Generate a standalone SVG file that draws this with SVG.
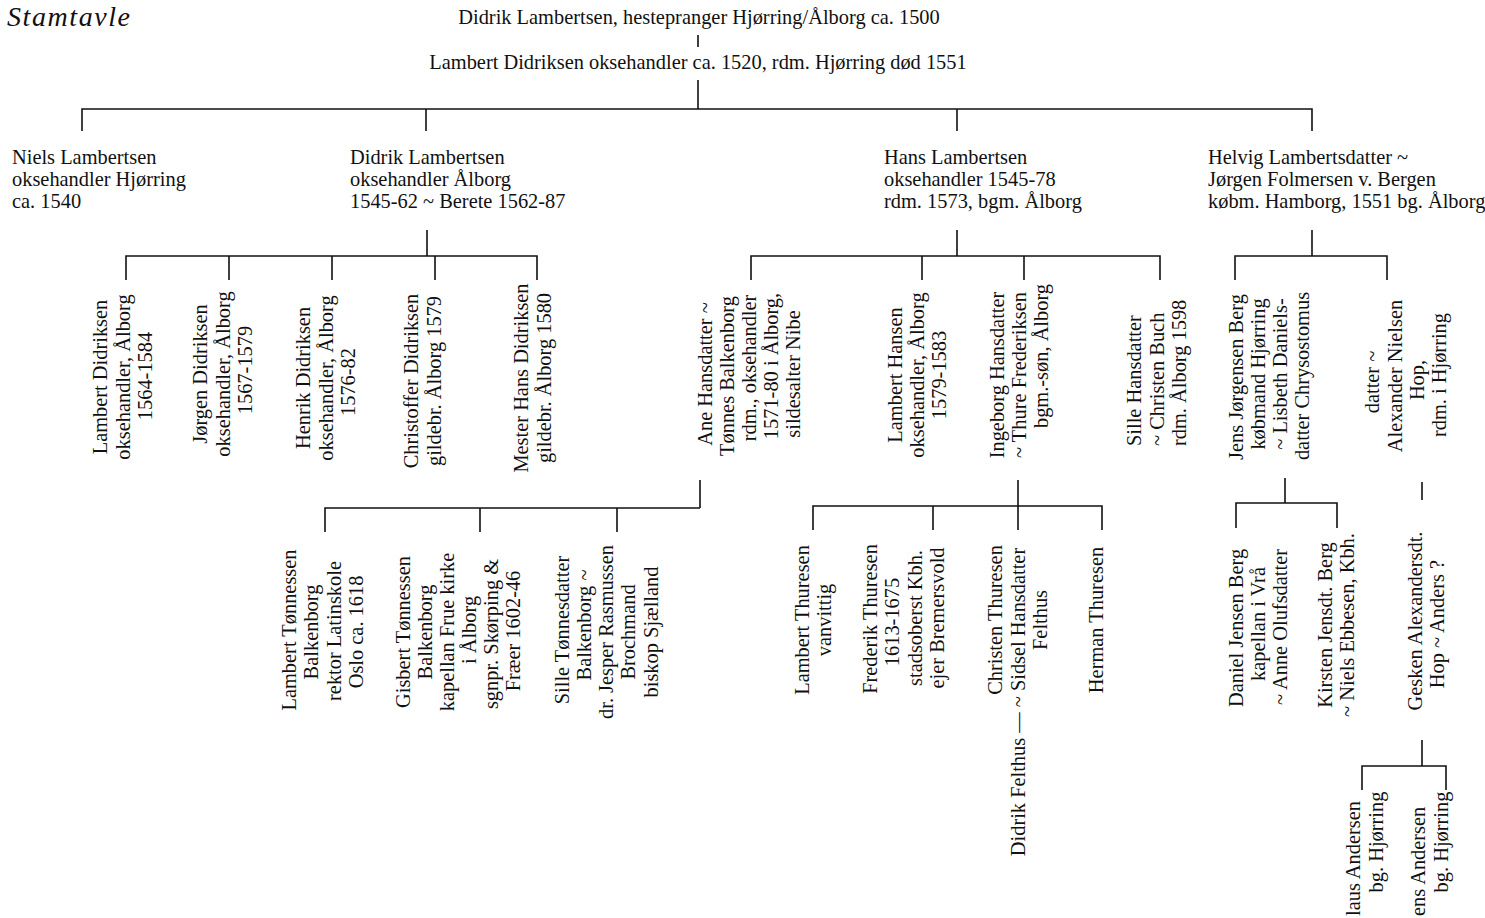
<svg xmlns="http://www.w3.org/2000/svg" width="1485" height="918" viewBox="0 0 1485 918">
<style>
.t{font-family:"Liberation Serif","Times New Roman",serif;font-size:20.4px;fill:#111}
.m{text-anchor:middle}
.s{text-anchor:start}
.c{stroke:#111;stroke-width:1.6;fill:none}
.ti{font-family:"Liberation Serif","Times New Roman",serif;font-style:italic;font-size:28px;fill:#111}
</style>
<rect width="1485" height="918" fill="#fff"/>
<text class="ti" x="7" y="26" textLength="123">Stamtavle</text>

<g id="connectors" class="c">
<path d="M698,35V47M698,80V109M82,131V109H1312V131M426,109V131M957,109V131"/>
<path d="M427,230V256M126,280V256H537V280M229,256V280M332,256V280M435,256V280"/>
<path d="M957,230V256M751,280V256H1160V280M922,256V280M1024,256V280"/>
<path d="M1312,230V256M1235,280V256H1387V280"/>
<path d="M700,480V508M325,532V508H700M480,508V532M617,508V532"/>
<path d="M1018,480V530M813,530V506H1102V530M933,506V530"/>
<path d="M1285,478V503M1236,528V503H1337V528"/>
<path d="M1422,482V500"/>
<path d="M1422,740V766M1362,790V766H1446V790"/>
</g>

<g id="n-didrik-sr"><text class="t m" x="699" y="24">Didrik Lambertsen, hestepranger Hjørring/Ålborg ca. 1500</text></g>
<g id="n-lambert"><text class="t m" x="698" y="69">Lambert Didriksen oksehandler ca. 1520, rdm. Hjørring død 1551</text></g>

<g id="n-niels"><text class="t" x="12" y="164">Niels Lambertsen<tspan x="12" y="186">oksehandler Hjørring</tspan><tspan x="12" y="208">ca. 1540</tspan></text></g>
<g id="n-didrik"><text class="t" x="350" y="164">Didrik Lambertsen<tspan x="350" y="186">oksehandler Ålborg</tspan><tspan x="350" y="208">1545-62 ~ Berete 1562-87</tspan></text></g>
<g id="n-hans"><text class="t" x="884" y="164">Hans Lambertsen<tspan x="884" y="186">oksehandler 1545-78</tspan><tspan x="884" y="208">rdm. 1573, bgm. Ålborg</tspan></text></g>
<g id="n-helvig"><text class="t" x="1208" y="164">Helvig Lambertsdatter ~<tspan x="1208" y="186">Jørgen Folmersen v. Bergen</tspan><tspan x="1208" y="208">købm. Hamborg, 1551 bg. Ålborg</tspan></text></g>

<g id="n-lambert-d">
<text class="t m" transform="translate(107,377) rotate(-90)">Lambert Didriksen</text>
<text class="t m" transform="translate(130,377) rotate(-90)">oksehandler, Ålborg</text>
<text class="t m" transform="translate(152,376) rotate(-90)">1564-1584</text>
</g>
<g id="n-jorgen-d">
<text class="t m" transform="translate(207,374) rotate(-90)">Jørgen Didriksen</text>
<text class="t m" transform="translate(230,374) rotate(-90)">oksehandler, Ålborg</text>
<text class="t m" transform="translate(252,370) rotate(-90)">1567-1579</text>
</g>
<g id="n-henrik-d">
<text class="t m" transform="translate(310,378) rotate(-90)">Henrik Didriksen</text>
<text class="t m" transform="translate(333,378) rotate(-90)">oksehandler, Ålborg</text>
<text class="t m" transform="translate(355,382) rotate(-90)">1576-82</text>
</g>
<g id="n-christoffer-d">
<text class="t m" transform="translate(418,381) rotate(-90)">Christoffer Didriksen</text>
<text class="t m" transform="translate(441,381) rotate(-90)">gildebr. Ålborg 1579</text>
</g>
<g id="n-mester-hans">
<text class="t m" transform="translate(528,378) rotate(-90)">Mester Hans Didriksen</text>
<text class="t m" transform="translate(551,378) rotate(-90)">gildebr. Ålborg 1580</text>
</g>

<g id="n-ane">
<text class="t m" transform="translate(712,374) rotate(-90)">Ane Hansdatter ~</text>
<text class="t m" transform="translate(734,376) rotate(-90)">Tønnes Balkenborg</text>
<text class="t m" transform="translate(756,368) rotate(-90)">rdm., oksehandler</text>
<text class="t m" transform="translate(778,366) rotate(-90)">1571-80 i Ålborg,</text>
<text class="t m" transform="translate(800,374) rotate(-90)">sildesalter Nibe</text>
</g>
<g id="n-lambert-h">
<text class="t m" transform="translate(902,375) rotate(-90)">Lambert Hansen</text>
<text class="t m" transform="translate(924,375) rotate(-90)">oksehandler, Ålborg</text>
<text class="t m" transform="translate(946,375) rotate(-90)">1579-1583</text>
</g>
<g id="n-ingeborg">
<text class="t m" transform="translate(1004,375) rotate(-90)">Ingeborg Hansdatter</text>
<text class="t m" transform="translate(1026,375) rotate(-90)">~ Thure Frederiksen</text>
<text class="t m" transform="translate(1048,356) rotate(-90)">bgm.-søn, Ålborg</text>
</g>
<g id="n-sille-h">
<text class="t s" transform="translate(1141,446) rotate(-90)">Sille Hansdatter</text>
<text class="t s" transform="translate(1164,446) rotate(-90)">~ Christen Buch</text>
<text class="t s" transform="translate(1186,446) rotate(-90)">rdm. Ålborg 1598</text>
</g>

<g id="n-jens">
<text class="t m" transform="translate(1243,377) rotate(-90)">Jens Jørgensen Berg</text>
<text class="t m" transform="translate(1265,374) rotate(-90)">købmand Hjørring</text>
<text class="t m" transform="translate(1287,374) rotate(-90)">~ Lisbeth Daniels-</text>
<text class="t m" transform="translate(1309,376) rotate(-90)">datter Chrysostomus</text>
</g>
<g id="n-datter">
<text class="t m" transform="translate(1379,382) rotate(-90)">datter ~</text>
<text class="t m" transform="translate(1402,376) rotate(-90)">Alexander Nielsen</text>
<text class="t m" transform="translate(1424,380) rotate(-90)">Hop,</text>
<text class="t m" transform="translate(1446,375) rotate(-90)">rdm. i Hjørring</text>
</g>

<g id="n-lambert-t">
<text class="t m" transform="translate(296,630) rotate(-90)">Lambert Tønnessen</text>
<text class="t m" transform="translate(318,632) rotate(-90)">Balkenborg</text>
<text class="t m" transform="translate(341,631) rotate(-90)">rektor Latinskole</text>
<text class="t m" transform="translate(363,632) rotate(-90)">Oslo ca. 1618</text>
</g>
<g id="n-gisbert">
<text class="t m" transform="translate(410,632) rotate(-90)">Gisbert Tønnessen</text>
<text class="t m" transform="translate(432,632) rotate(-90)">Balkenborg</text>
<text class="t m" transform="translate(454,632) rotate(-90)">kapellan Frue kirke</text>
<text class="t m" transform="translate(476,630) rotate(-90)">i Ålborg</text>
<text class="t m" transform="translate(498,634) rotate(-90)">sgnpr. Skørping &amp;</text>
<text class="t m" transform="translate(520,631) rotate(-90)">Fræer 1602-46</text>
</g>
<g id="n-sille-t">
<text class="t m" transform="translate(569,630) rotate(-90)">Sille Tønnesdatter</text>
<text class="t m" transform="translate(591,625) rotate(-90)">Balkenborg ~</text>
<text class="t m" transform="translate(613,632) rotate(-90)">dr. Jesper Rasmussen</text>
<text class="t m" transform="translate(635,632) rotate(-90)">Brochmand</text>
<text class="t m" transform="translate(658,632) rotate(-90)">biskop Sjælland</text>
</g>

<g id="n-lambert-th">
<text class="t m" transform="translate(809,620) rotate(-90)">Lambert Thuresen</text>
<text class="t m" transform="translate(831,620) rotate(-90)">vanvittig</text>
</g>
<g id="n-frederik-th">
<text class="t m" transform="translate(877,619) rotate(-90)">Frederik Thuresen</text>
<text class="t m" transform="translate(899,622) rotate(-90)">1613-1675</text>
<text class="t m" transform="translate(922,618) rotate(-90)">stadsoberst Kbh.</text>
<text class="t m" transform="translate(944,618) rotate(-90)">ejer Bremersvold</text>
</g>
<g id="n-christen-th">
<text class="t m" transform="translate(1002,620) rotate(-90)">Christen Thuresen</text>
<text class="t m" transform="translate(1025,702) rotate(-90)">Didrik Felthus — ~ Sidsel Hansdatter</text>
<text class="t m" transform="translate(1047,620) rotate(-90)">Felthus</text>
</g>
<g id="n-herman-th">
<text class="t m" transform="translate(1103,620) rotate(-90)">Herman Thuresen</text>
</g>

<g id="n-daniel">
<text class="t m" transform="translate(1243,628) rotate(-90)">Daniel Jensen Berg</text>
<text class="t m" transform="translate(1265,624) rotate(-90)">kapellan i Vrå</text>
<text class="t m" transform="translate(1287,627) rotate(-90)">~ Anne Olufsdatter</text>
</g>
<g id="n-kirsten">
<text class="t m" transform="translate(1332,625) rotate(-90)">Kirsten Jensdt. Berg</text>
<text class="t m" transform="translate(1354,625) rotate(-90)">~ Niels Ebbesen, Kbh.</text>
</g>
<g id="n-gesken">
<text class="t m" transform="translate(1422,621) rotate(-90)">Gesken Alexandersdt.</text>
<text class="t m" transform="translate(1444,624) rotate(-90)">Hop ~ Anders ?</text>
</g>

<g id="n-claus">
<text class="t s" transform="translate(1360,916) rotate(-90)">laus Andersen</text>
<text class="t m" transform="translate(1383,842) rotate(-90)">bg. Hjørring</text>
</g>
<g id="n-jens-a">
<text class="t s" transform="translate(1425,916) rotate(-90)">ens Andersen</text>
<text class="t m" transform="translate(1448,842) rotate(-90)">bg. Hjørring</text>
</g>
</svg>
